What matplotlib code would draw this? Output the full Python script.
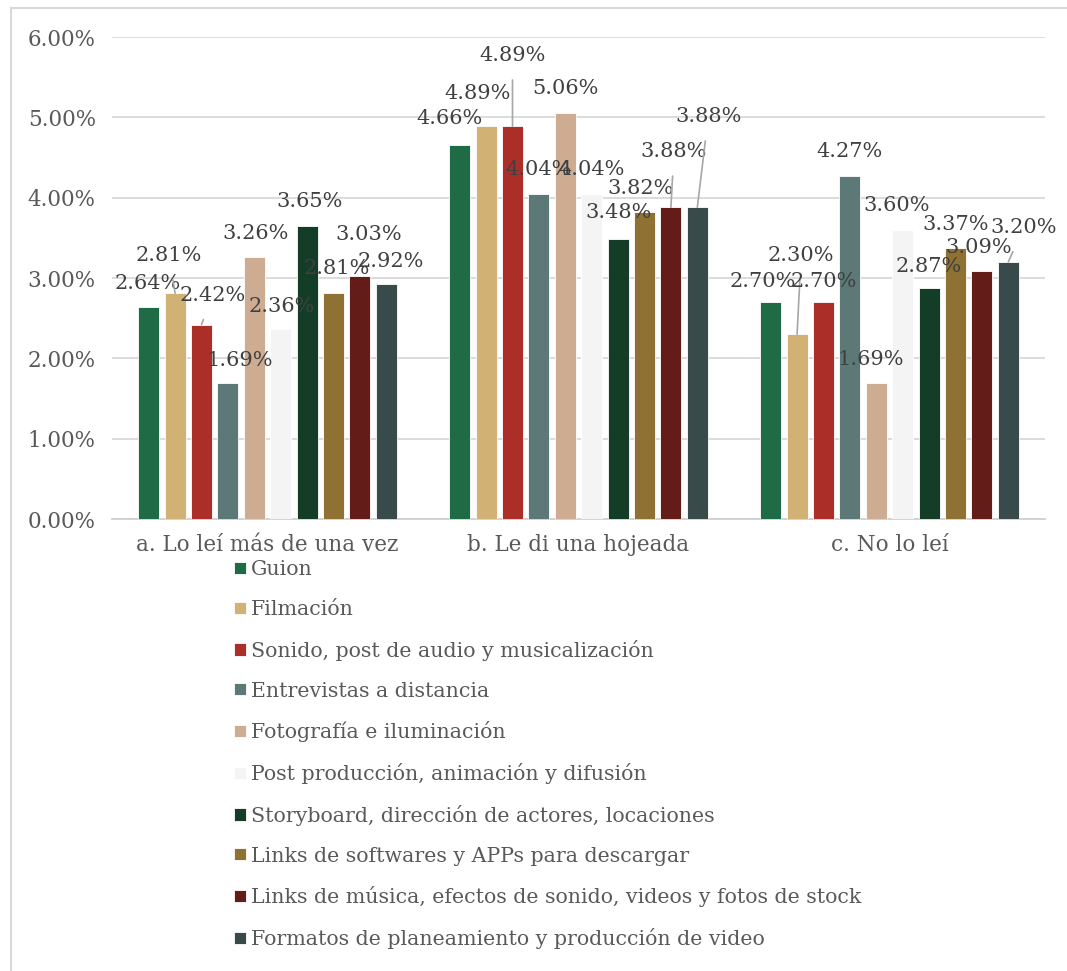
import matplotlib.pyplot as plt
import numpy as np

plt.rcParams['font.family'] = ['DejaVu Serif']

categorias = ['a. Lo leí más de una vez', 'b. Le di una hojeada', 'c. No lo leí']
series = ['Guion',
          'Filmación',
          'Sonido, post de audio y musicalización',
          'Entrevistas a distancia',
          'Fotografía e iluminación',
          'Post producción, animación y difusión',
          'Storyboard, dirección de actores, locaciones',
          'Links de softwares y APPs para descargar',
          'Links de música, efectos de sonido, videos y fotos de stock',
          'Formatos de planeamiento y producción de video']
colores = ['#1F6B45', '#D1B274', '#AB2E29', '#5C7877', '#CDAC91',
           '#F4F4F4', '#143D28', '#8F7133', '#641C18', '#384A4A']

# porcentajes por serie: [a, b, c]
valores = [
    [2.64, 4.66, 2.70],
    [2.81, 4.89, 2.30],
    [2.42, 4.89, 2.70],
    [1.69, 4.04, 4.27],
    [3.26, 5.06, 1.69],
    [2.36, 4.04, 3.60],
    [3.65, 3.48, 2.87],
    [2.81, 3.82, 3.37],
    [3.03, 3.88, 3.09],
    [2.92, 3.88, 3.20],
]

# desplazamiento de cada etiqueta (px) respecto al tope de la barra, y si lleva línea guía
etiq_dx = [
    [-1, -10, -8],
    [-6, -9, 4],
    [11, 0, 0],
    [12, 0, 0],
    [1, 0, -6],
    [1, 0, -6],
    [2, 0, 0],
    [3, -4, 0],
    [9, 3, -3],
    [4, 11, 15],
]
etiq_dy = [
    [23, 26, 21],
    [38, 33, 79],
    [29, 71, 21],
    [23, 25, 24],
    [24, 24, 24],
    [23, 25, 24],
    [24, 27, 22],
    [25, 24, 24],
    [41, 56, 23],
    [23, 91, 34],
]
con_linea = [
    [False, False, False],
    [True, False, True],
    [True, True, False],
    [False, False, False],
    [False, False, False],
    [False, False, False],
    [False, False, False],
    [False, False, False],
    [False, True, False],
    [False, True, True],
]

fig = plt.figure(figsize=(10.67, 9.71), dpi=100)
ax = fig.add_axes([112 / 1067, 1 - 519 / 971, 933 / 1067, 482 / 971])

x = np.arange(len(categorias))
paso = 0.0849
ancho = 0.0675
n = len(series)

barras = []
for i in range(n):
    pos = x + (i - (n - 1) / 2) * paso
    b = ax.bar(pos, valores[i], width=ancho, color=colores[i], edgecolor='white',
               linewidth=0.6, label=series[i], zorder=3)
    barras.append(b)
    for j in range(len(categorias)):
        v = valores[i][j]
        dx, dy = etiq_dx[i][j], etiq_dy[i][j]
        arrow = None
        if con_linea[i][j]:
            arrow = dict(arrowstyle='-', color='#A6A6A6', lw=1.2, shrinkA=9, shrinkB=0)
        ax.annotate(f'{v:.2f}%', xy=(pos[j], v), xytext=(dx, dy),
                    textcoords='offset pixels', ha='center', va='center',
                    fontsize=15, color='#404040', arrowprops=arrow, zorder=5)

ax.set_xlim(-0.5, 2.5)
ax.set_ylim(0, 6)
ax.set_yticks(np.arange(0, 7, 1))
ax.set_yticklabels([f'{t:.2f}%' for t in np.arange(0, 7, 1)])
ax.set_xticks(x)
ax.set_xticklabels(categorias)
ax.yaxis.grid(True, color='#D9D9D9', linewidth=1.3, zorder=0)
ax.set_axisbelow(True)
for s in ['top', 'right', 'left']:
    ax.spines[s].set_visible(False)
ax.spines['bottom'].set_color('#D0D0D0')
ax.spines['bottom'].set_linewidth(1.3)
ax.tick_params(axis='both', length=0, labelsize=15.5, labelcolor='#595959')
ax.tick_params(axis='y', pad=11.7)
ax.tick_params(axis='x', pad=10.5)

fig.legend(handles=barras, labels=series, loc='upper left',
           bbox_to_anchor=(226 / 1067, 1 - 552 / 971), frameon=False,
           fontsize=14.8, labelcolor='#595959', handlelength=0.55, handleheight=0.55,
           handletextpad=0.25, labelspacing=1.01, borderaxespad=0)

# marco del gráfico
fig.add_artist(plt.Line2D([11 / 1067, 11 / 1067], [0, 1 - 8 / 971],
                          transform=fig.transFigure, color='#D9D9D9', lw=1.5))
fig.add_artist(plt.Line2D([11 / 1067, 1], [1 - 8 / 971, 1 - 8 / 971],
                          transform=fig.transFigure, color='#D9D9D9', lw=1.5))

fig.savefig('out.png', dpi=100)
